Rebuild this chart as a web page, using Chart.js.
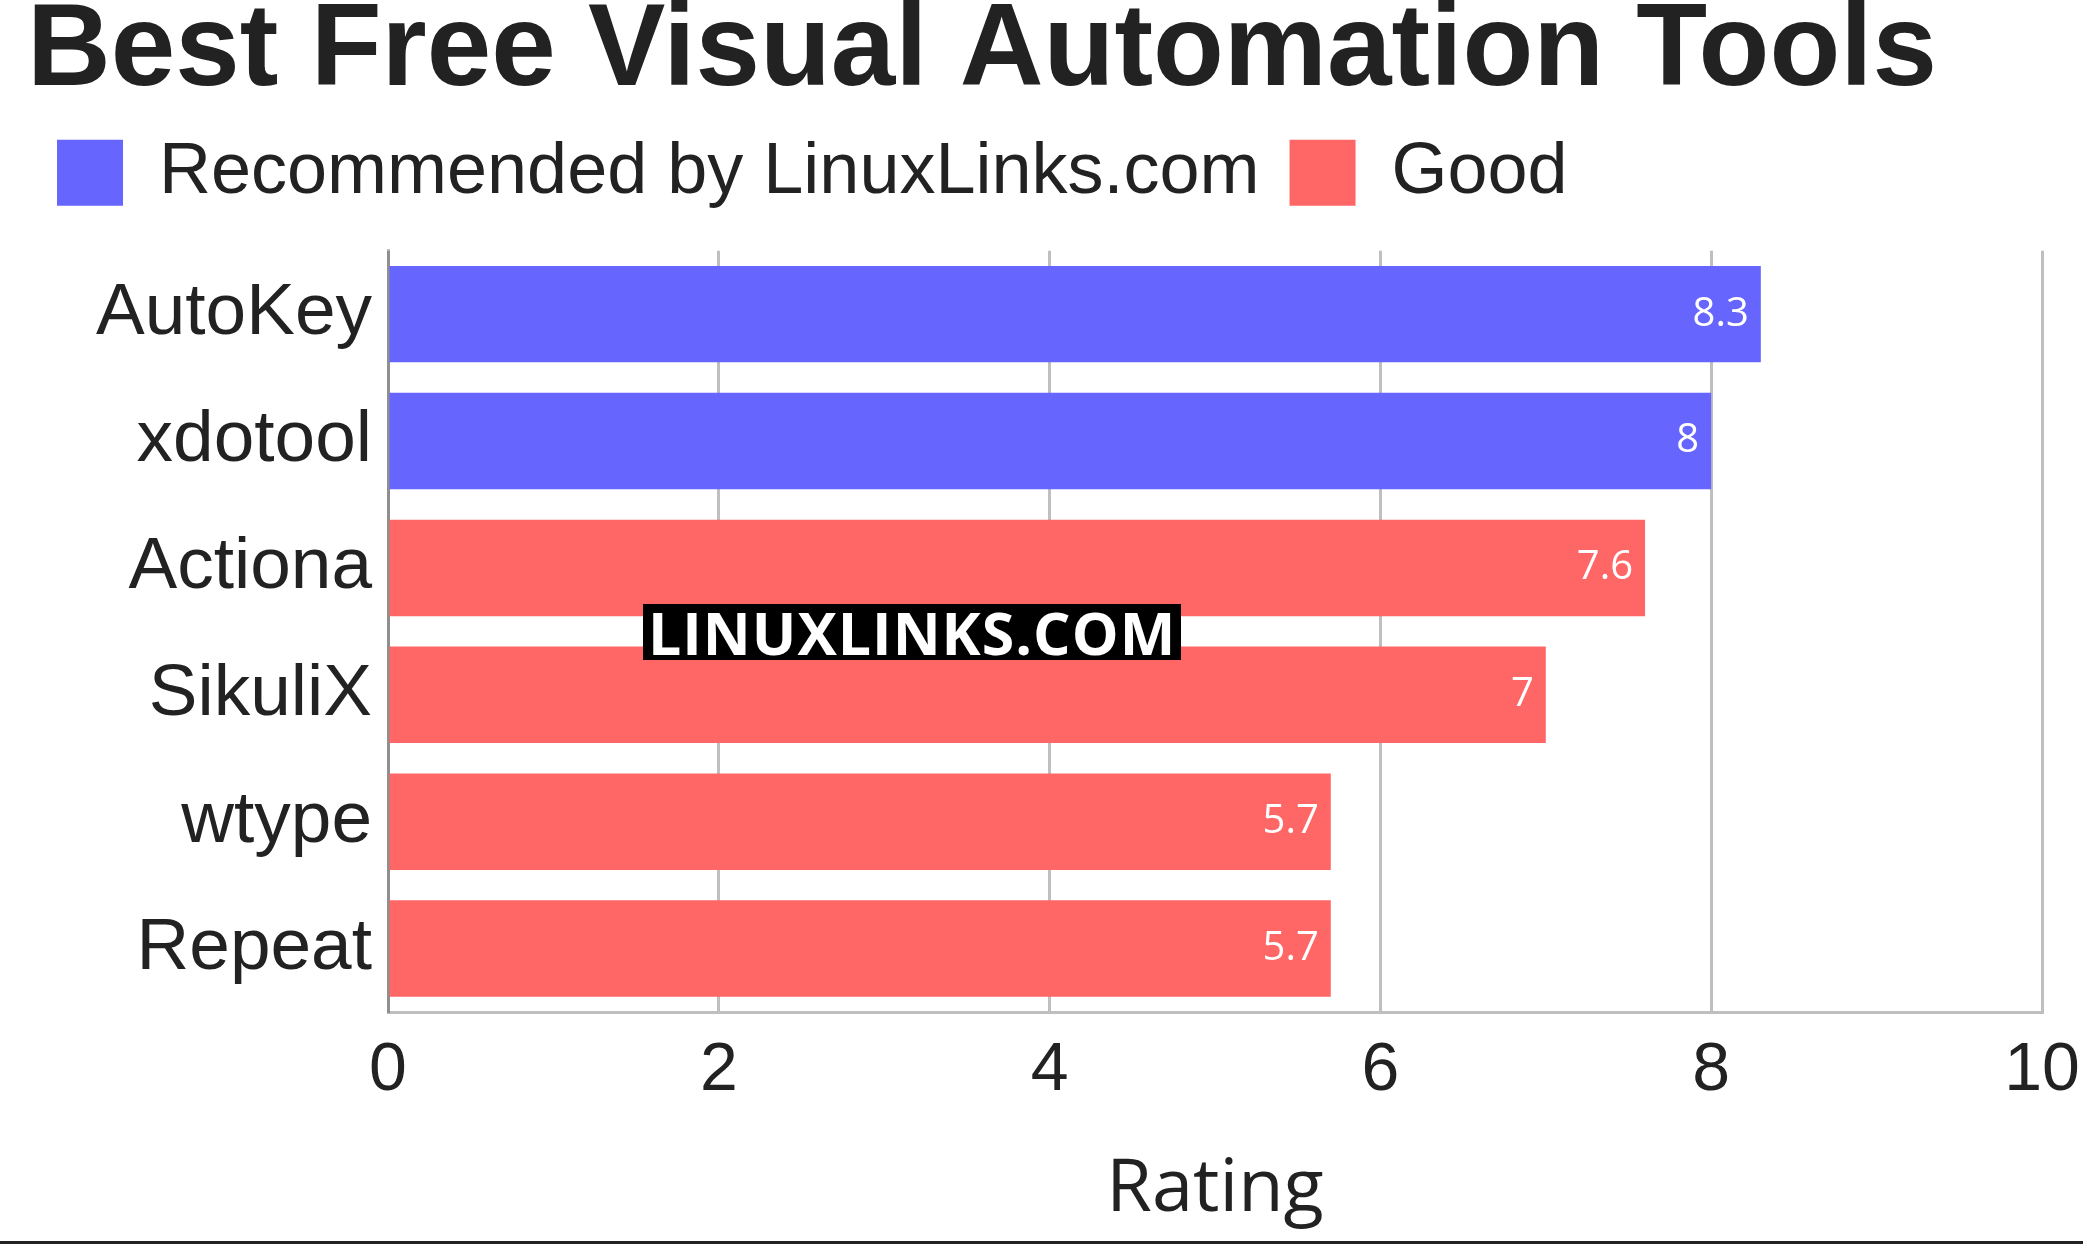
<!DOCTYPE html>
<html><head><meta charset="utf-8">
<script src="https://cdn.jsdelivr.net/npm/chart.js@4"></script>
<style>
html,body{margin:0;padding:0;background:#fff;}
#wrap{position:relative;width:2083px;height:1246px;}
#wm{position:absolute;left:643px;top:604px;background:#000;color:#fff;font:bold 59px "Open Sans";line-height:56px;padding:0 5px;letter-spacing:1px;}
#line{position:absolute;left:0;top:1241px;width:2083px;height:3px;background:#222;}
</style></head><body>
<div id="wrap"><canvas id="c" width="2083" height="1246"></canvas>
<div id="wm">LINUXLINKS.COM</div><div id="line"></div></div>
<script>
const categories=["AutoKey","xdotool","Actiona","SikuliX","wtype","Repeat"];
const recommended=[8.3,8,null,null,null,null];
const good=[null,null,7.6,7,5.7,5.7];
const ticks=[0,2,4,6,8,10];
const valueLabels={
 id:'vl',
 afterInit(ch){const lg=ch.legend;const f=lg.fit.bind(lg);lg.fit=function(){f();this.height+=32;};},
 afterDatasetsDraw(ch){
  const ctx=ch.ctx;ctx.save();ctx.fillStyle='#fff';ctx.font='40px "Open Sans"';ctx.textAlign='right';ctx.textBaseline='middle';
  ch.data.datasets.forEach((d,i)=>{ch.getDatasetMeta(i).data.forEach((b,j)=>{if(d.data[j]!=null)ctx.fillText(String(d.data[j]),b.x-12,b.y);});});
  ctx.restore();}
};
new Chart(document.getElementById('c'),{
 type:'bar',
 data:{labels:categories,datasets:[
  {label:'Recommended by LinuxLinks.com',data:recommended,backgroundColor:'#6666ff',barPercentage:0.76,categoryPercentage:1},
  {label:'Good',data:good,backgroundColor:'#ff6666',barPercentage:0.76,categoryPercentage:1}]},
 options:{indexAxis:'y',responsive:false,animation:false,
  layout:{padding:{left:27,right:41,top:0,bottom:0}},
  plugins:{
   title:{display:true,text:'Best Free Visual Automation Tools',align:'start',color:'#222',font:{family:'Liberation Sans',weight:'bold',size:116,lineHeight:0.92},padding:{top:0,bottom:0}},
   legend:{align:'start',labels:{boxWidth:66,boxHeight:66,color:'#222',font:{family:'Liberation Sans',size:72},padding:30},title:{display:false}},
   tooltip:{enabled:false}},
  scales:{
   x:{stacked:true,min:0,max:10,z:1,afterBuildTicks(s){s.ticks=ticks.map(v=>({value:v}));},
    afterFit(s){s.height=234;s.paddingRight=0;},
    grid:{color:'rgba(0,0,0,0.25)',lineWidth:3,drawTicks:false},border:{color:'rgba(0,0,0,0.25)',width:3},
    ticks:{color:'#222',font:{family:'Liberation Sans',size:68},padding:18},
    title:{display:true,text:'Rating',color:'#222',font:{family:'Open Sans',size:74},padding:{top:16,bottom:12}}},
   y:{stacked:true,grid:{display:false},border:{color:'rgba(0,0,0,0.25)',width:3},afterFit(s){s.width=361;},
    ticks:{color:'#222',font:{family:'Liberation Sans',size:73},padding:8}}}
 },plugins:[valueLabels]});
</script></body></html>
